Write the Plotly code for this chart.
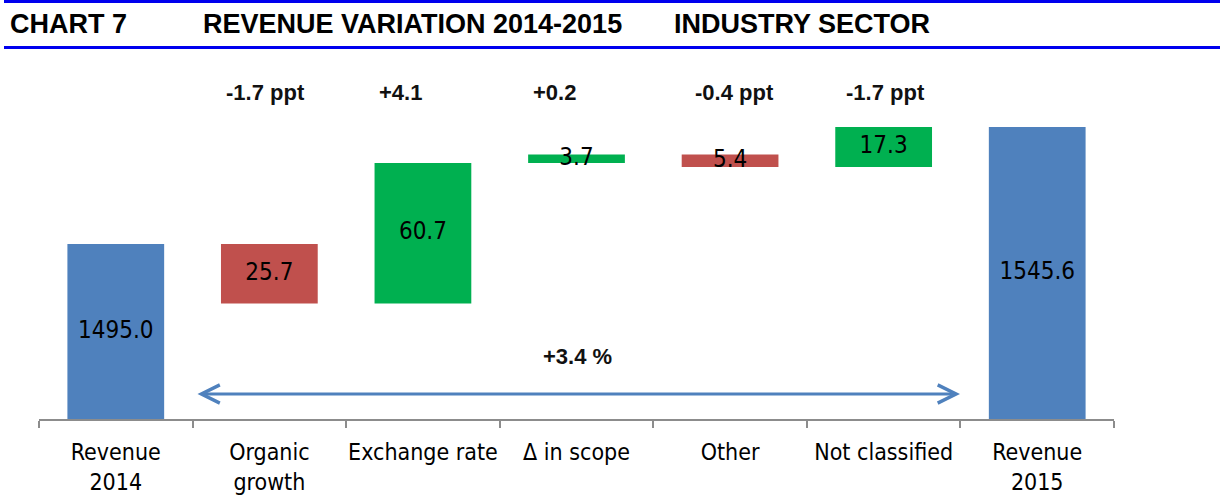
import plotly.graph_objects as go

# ---- data ----
categories = ["Revenue<br>2014", "Organic<br>growth", "Exchange rate", "Δ in scope",
              "Other", "Not classified", "Revenue<br>2015"]
values = [1495.0, -25.7, 60.7, 3.7, -5.4, 17.3, 1545.6]
measures = ["absolute", "relative", "relative", "relative", "relative", "relative", "total"]
value_labels = ["1495.0", "25.7", "60.7", "3.7", "5.4", "17.3", "1545.6"]
top_labels = ["", "-1.7 ppt", "+4.1", "+0.2", "-0.4 ppt", "-1.7 ppt", ""]
growth_label = "+3.4 %"
title_parts = ["CHART 7", "REVENUE VARIATION 2014-2015", "INDUSTRY SECTOR"]

# ---- style ----
BLUE = "#4F81BD"
GREEN = "#00B050"
RED = "#C0504D"
Y_MIN, Y_MAX = 1419.3, 1574.6
NARROW = "DejaVu Sans Condensed, Liberation Sans, Arial, sans-serif"
BOLD = "Liberation Sans, Arial, sans-serif"

# compute waterfall bases from data
bases, heights, colors, mids = [], [], [], []
running = 0.0
for v, m in zip(values, measures):
    if m in ("absolute", "total"):
        running = v
        bases.append(0)
        heights.append(v)
        colors.append(BLUE)
        mids.append((Y_MIN + v) / 2)
    else:
        lo = running + min(v, 0)
        hi = running + max(v, 0)
        bases.append(lo)
        heights.append(hi - lo)
        colors.append(GREEN if v > 0 else RED)
        mids.append((lo + hi) / 2)
        running += v

fig = go.Figure()
fig.add_trace(go.Bar(x=categories, y=heights, base=bases, marker_color=colors,
                     marker_line_width=0, width=0.63, hoverinfo="skip"))
fig.add_trace(go.Scatter(x=categories, y=mids, mode="text", text=value_labels,
                         textposition="middle center",
                         textfont=dict(family=NARROW, size=24, color="black"),
                         hoverinfo="skip"))

annotations = []
top_xshift = [0, -4, -22, -22, 4, 2, 0]
for c, t, dx in zip(categories, top_labels, top_xshift):
    if t:
        annotations.append(dict(x=c, y=1.0, xref="x", yref="paper", yshift=-18,
                                text="<b>" + t + "</b>", showarrow=False, xshift=dx,
                                font=dict(family=BOLD, size=22, color="#111")))

annotations.append(dict(x=(577 - 39) / 1075, xref="paper", y=1446.5, yref="y",
                        text="<b>" + growth_label + "</b>",
                        showarrow=False, font=dict(family=BOLD, size=22, color="#111")))
# double-headed arrow
annotations.append(dict(x=(960 - 39) / 1075, xref="paper", y=1430.1, yref="y",
                        ax=-764, ay=0, axref="pixel", ayref="pixel", text="",
                        showarrow=True, arrowside="end+start", arrowhead=5, startarrowhead=5,
                        arrowsize=1.2, startarrowsize=1.2, arrowwidth=3, arrowcolor=BLUE))
# header titles
title_x_px = [8, 201, 672]
for t, xp in zip(title_parts, title_x_px):
    annotations.append(dict(x=(xp - 39) / 1075, xref="paper", y=(419 - 24) / 359, yref="paper",
                            xanchor="left", yanchor="middle", text="<b>" + t + "</b>",
                            showarrow=False, font=dict(family=BOLD, size=27, color="black")))

shapes = []
for ypx in (1.5, 47.5):
    shapes.append(dict(type="line", xref="paper", yref="paper",
                       x0=(4 - 39) / 1075, x1=(1220 - 39) / 1075,
                       y0=(419 - ypx) / 359, y1=(419 - ypx) / 359,
                       line=dict(color="#0000EE", width=3)))

fig.update_layout(
    width=1220, height=499,
    margin=dict(l=39, r=106, t=60, b=80, autoexpand=False),
    paper_bgcolor="white", plot_bgcolor="white",
    showlegend=False,
    annotations=annotations, shapes=shapes,
    xaxis=dict(type="category", tickson="boundaries", ticks="outside", ticklen=7,
               tickwidth=2, tickcolor="#8C8C8C", showline=True, linecolor="#8C8C8C",
               linewidth=2, showgrid=False, zeroline=False, tickangle=0, automargin=False,
               ticklabelstandoff=11,
               tickfont=dict(family=NARROW, size=23, color="black")),
    yaxis=dict(range=[Y_MIN, Y_MAX], visible=False, showgrid=False, zeroline=False,
               automargin=False),
)

fig.write_html("out.html", config={"displayModeBar": False},
               post_script="document.body.style.margin='0';document.body.style.padding='0';")
